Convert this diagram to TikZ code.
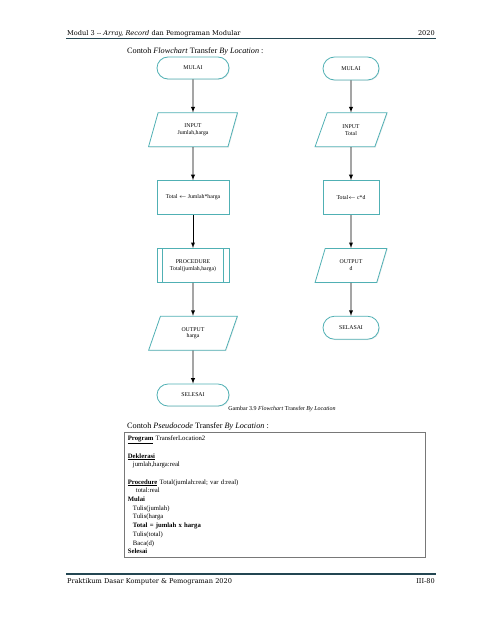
\documentclass[tikz,border=0pt]{standalone}
\usepackage{fontspec}
\setmainfont{Liberation Serif}
\newfontfamily\headfont{DejaVu Serif}
\usepackage{tikz}
\usetikzlibrary{scopes,positioning,shapes.geometric,shadows}
\definecolor{boxcol}{RGB}{80,176,180}
\definecolor{rulecol}{RGB}{35,70,82}
\definecolor{codecol}{RGB}{120,120,120}
\tikzset{
  myshadow/.style={drop shadow={opacity=0.15,shadow xshift=0.8pt,shadow yshift=-0.8pt}},
  mybox/.style={draw=boxcol,line width=0.8pt,fill=white,myshadow,align=center,
    inner sep=1pt,font=\fontsize{5.8}{6.8}\selectfont},
  myterm/.style={mybox,rectangle,rounded corners=11pt,minimum width=72pt,minimum height=22pt},
  myio/.style={mybox,trapezium,trapezium left angle=72,trapezium right angle=108,
    trapezium stretches=true,minimum width=89pt,minimum height=34pt},
  myproc/.style={mybox,rectangle,minimum width=72pt,minimum height=34pt},
  myhead/.style={inner sep=0pt,font={\headfont\fontsize{6.6}{8}\selectfont}},
  mytitle/.style={inner sep=0pt,font=\fontsize{8.2}{10}\selectfont},
  mycap/.style={inner sep=0pt,font=\fontsize{6}{7}\selectfont},
  mycode/.style={draw=codecol,line width=0.8pt,align=left,text width=294pt,
    inner xsep=3.5pt,inner ysep=2.5pt,minimum height=125pt,font=\fontsize{6.7}{8.7}\selectfont},
  myrule/.style={rulecol,line width=1.8pt},
  myflow/.style={-latex,line width=0.9pt,black}
}

\begin{document}
\begin{tikzpicture}[x=1pt,y=-1pt]
  \useasboundingbox (0,0) rectangle (480,621);
  % header
  \node[myhead,anchor=base west] (head) at (67,35) {Modul 3 -- \textit{Array, Record} dan Pemograman Modular};
  \node[myhead,anchor=base east] (year) at (435,35) {2020};
  \draw[myrule] (66,38.5) -- (436,38.5);
  \node[mytitle,anchor=base west] (fctitle) at (127,53) {Contoh \textit{Flowchart} Transfer \textit{By Location} :};
  % main program
  \node[myterm] (lstart) at (193,68) {MULAI};
  \node[myio,below=33pt of lstart] (lin) {INPUT\\Jumlah,harga};
  \node[myproc,below=33pt of lin] (lcalc) {Total $\leftarrow$ Jumlah*harga};
  \node[myproc,below=33pt of lcalc] (lsub) {PROCEDURE\\Total(jumlah,harga)};
  \draw[boxcol,line width=0.8pt]
    ([xshift=6pt]lsub.north west) -- ([xshift=6pt]lsub.south west)
    ([xshift=-6pt]lsub.north east) -- ([xshift=-6pt]lsub.south east);
  \node[myio,below=33pt of lsub] (lout) {OUTPUT\\harga};
  \node[myterm,below=33pt of lout] (lend) {SELESAI};
  % procedure
  \node[myterm,minimum width=56pt,minimum height=23pt,rounded corners=11.5pt] (rstart) at (351,68.5) {MULAI};
  \node[myio,trapezium left angle=69,trapezium right angle=111,minimum width=72pt,
    below=32pt of rstart] (rin) {INPUT\\Total};
  \node[myproc,minimum width=56pt,below=33pt of rin] (rcalc) {Total$\leftarrow$ c*d};
  \node[myio,trapezium left angle=69,trapezium right angle=111,minimum width=72pt,
    below=33pt of rcalc] (rout) {OUTPUT\\d};
  \node[myterm,minimum width=56pt,minimum height=23pt,rounded corners=11.5pt,
    below=33pt of rout] (rend) {SELASAI};
  {[myflow]
    \draw (lstart) -- (lin);
    \draw (lin) -- (lcalc);
    \draw (lcalc) -- (lsub);
    \draw (lsub) -- (lout);
    \draw (lout) -- (lend);
    \draw (rstart) -- (rin);
    \draw (rin) -- (rcalc);
    \draw (rcalc) -- (rout);
    \draw (rout) -- (rend);
  }
  \node[mycap,anchor=base] (cap) at (282,410) {Gambar 3.9 \textit{Flowchart} Transfer \textit{By Location}};
  % pseudocode
  \node[mytitle,anchor=base west] (pctitle) at (127,428) {Contoh \textit{Pseudocode} Transfer \textit{By Location} :};
  \node[mycode,anchor=north west] (code) at (124,432) {%
    \underline{\textbf{Program}} TransferLocation2\\
    \mbox{}\\
    \underline{\textbf{Deklerasi}}\\
    \hspace*{5pt}jumlah,harga:real\\
    \mbox{}\\
    \underline{\textbf{Procedure}} Total(jumlah:real; var d:real)\\
    \hspace*{8pt}total:real\\
    \textbf{Mulai}\\
    \hspace*{5pt}Tulis(jumlah)\\
    \hspace*{5pt}Tulis(harga\\
    \hspace*{5pt}\textbf{Total = jumlah x harga}\\
    \hspace*{5pt}Tulis(total)\\
    \hspace*{5pt}Baca(d)\\
    \textbf{Selesai}};
  % footer
  \draw[myrule] (66,574) -- (436,574);
  \node[myhead,anchor=base west] (foot) at (67,583) {Praktikum Dasar Komputer \& Pemograman 2020};
  \node[myhead,anchor=base east] (page) at (435,583) {III-80};
\end{tikzpicture}
\end{document}
